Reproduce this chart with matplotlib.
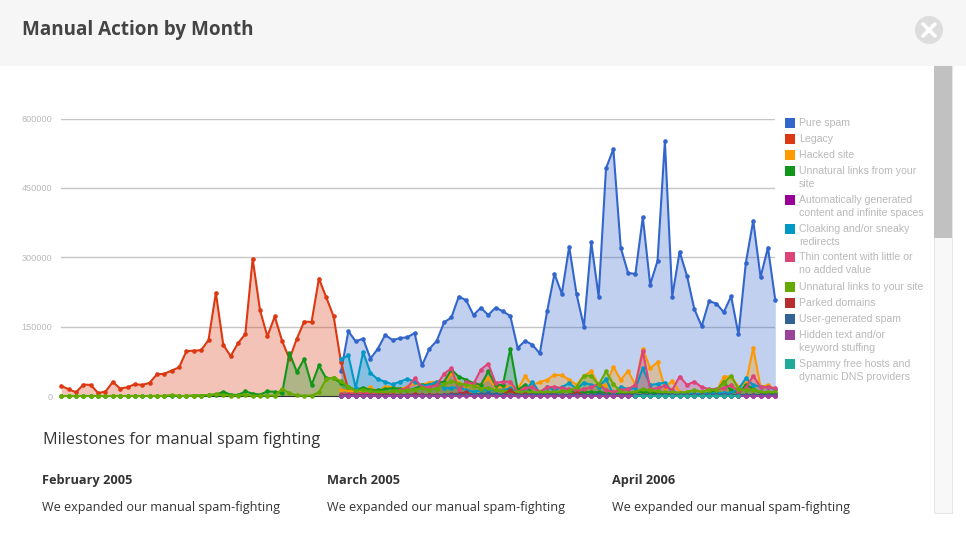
import matplotlib
matplotlib.use("Agg")
import matplotlib.pyplot as plt
from matplotlib.patches import Rectangle, Circle

# Data (98 months)
Z = None
pure_spam = [Z] * 38 + [
    53000, 140000, 118000, 124000, 81000, 102000, 132000, 121000, 125000, 127000,
    136000, 66000, 102000, 119000, 159000, 170000, 215000, 207000, 175000, 191000,
    175000, 191000, 183000, 173000, 104000, 119000, 111000, 92000, 183000, 264000,
    221000, 323000, 220000, 150000, 332000, 215000, 492000, 534000, 321000, 266000,
    264000, 387000, 241000, 292000, 551000, 215000, 312000, 260000, 188000, 151000,
    205000, 200000, 181000, 216000, 133000, 288000, 379000, 257000, 321000, 207000]
legacy = [
    21800, 14500, 8000, 24700, 24000, 6500, 9500, 30500, 16000, 19000,
    25500, 24000, 28500, 47000, 48000, 55000, 62000, 97000, 98000, 99000,
    121000, 223000, 111000, 86000, 114000, 134000, 297000, 185000, 129000, 172000,
    119000, 80000, 124000, 161000, 160000, 254000, 213000, 172000, 73000, 13000] + [Z] * 58
hacked = [Z] * 38 + [
    13000, 11600, 9500, 11600, 19000, 9500, 20400, 19000, 14600, 20400,
    27700, 24000, 29100, 31300, 27700, 49500, 27700, 20400, 24000, 24000,
    38600, 19000, 19000, 20400, 14600, 42200, 24000, 29800, 35000, 46000,
    45000, 35000, 24000, 44000, 53000, 24000, 24000, 63000, 35000, 54000,
    24000, 102000, 60000, 73000, 17000, 33000, 9000, 7000, 6000, 4000,
    9000, 9000, 42000, 42000, 20000, 28000, 104000, 19000, 24000, 14000]
links_from = [
    0, 0, 0, 0, 0, 0, 0, 0, 0, 0,
    0, 0, 0, 0, 0, 1000, 0, 0, 1000, 1000,
    2000, 3000, 9000, 3000, 2000, 10000, 5000, 3000, 10000, 9000,
    6000, 93000, 52000, 80000, 24000, 66000, 38000, 39000, 28000, 20000,
    13000, 18000, 13000, 12000, 15000, 17000, 16000, 12000, 15000, 24000,
    24000, 28000, 31000, 57000, 42000, 35000, 28000, 24000, 53000, 24000,
    24000, 102000, 13000, 24000, 7000, 6000, 8000, 7000, 10000, 12000,
    6000, 9000, 8000, 8000, 7000, 5000, 5000, 6000, 8000, 9000,
    7000, 6000, 6000, 5000, 4000, 5000, 4000, 5000, 6000, 12000,
    30000, 12000, 6000, 24000, 16000, 7000, 7000, 6000]
auto_gen = [Z] * 38 + [
    1000, 1000, 1000, 1500, 1000, 1000, 1500, 1000, 1000, 1000,
    1500, 2000, 1500, 1000, 1500, 1000, 2000, 1500, 1000, 1000,
    1000, 1500, 1000, 1000, 2000, 1000, 1000, 1000, 1500, 1000,
    1000, 1000, 1500, 1000, 1000, 1000, 1000, 1000, 1000, 1000,
    1000, 1000, 1000, 1000, 1000, 1000, 1000, 1000, 1000, 1000,
    1000, 1000, 1000, 1000, 1000, 1000, 1000, 1000, 1000, 1000]
cloaking = [Z] * 38 + [
    79000, 88000, 17000, 95000, 50000, 36000, 31000, 25000, 31000, 37000,
    31000, 22000, 24000, 31000, 17000, 17000, 19000, 13000, 9000, 12000,
    13000, 12000, 12000, 17000, 7000, 12000, 30000, 7000, 19000, 13000,
    19000, 28000, 15000, 29000, 24000, 20000, 36000, 4000, 20000, 15000,
    17000, 60000, 24000, 26000, 29000, 9000, 6000, 6000, 5000, 5000,
    5000, 6000, 7000, 7000, 15000, 38000, 24000, 20000, 19000, 15000]
thin_content = [Z] * 38 + [
    5000, 5000, 6000, 6000, 7000, 7000, 8000, 9000, 12000, 18000,
    38000, 19000, 19000, 24000, 48000, 60000, 13000, 31000, 26000, 57000,
    70000, 28000, 31000, 31000, 9000, 17000, 19000, 9000, 19000, 20000,
    17000, 15000, 12000, 15000, 19000, 26000, 13000, 9000, 13000, 15000,
    24000, 97000, 15000, 17000, 22000, 13000, 42000, 24000, 31000, 19000,
    15000, 15000, 17000, 24000, 9000, 17000, 44000, 19000, 19000, 17000]
links_to = [
    0, 0, 0, 0, 0, 0, 0, 0, 0, 0,
    0, 0, 0, 0, 0, 2000, 0, 0, 1000, 1000,
    2000, 4000, 2000, 1000, 1000, 3000, 0, 1000, 1000, 1000,
    15000, 6000, 1500, 500, 1000, 8000, 37000, 40000, 32000, 20000,
    11000, 14000, 10000, 9000, 9000, 10000, 11000, 12000, 14000, 17000,
    13000, 16000, 26000, 32000, 27000, 24000, 22000, 16000, 18000, 12000,
    11000, 10000, 9000, 9000, 8000, 8000, 9000, 9000, 10000, 11000,
    20000, 44000, 44000, 24000, 53000, 26000, 9000, 7000, 9000, 15000,
    12000, 10000, 8000, 8000, 7000, 9000, 13000, 9000, 14000, 13000,
    28000, 44000, 15000, 12000, 14000, 9000, 8000, 8000]
parked = [Z] * 38 + [
    2000, 2000, 2000, 2000, 2000, 2000, 3000, 2000, 2000, 2000,
    4000, 2000, 2000, 3000, 2000, 4000, 5000, 8000, 2000, 3000,
    3000, 2000, 3000, 12000, 2000, 4000, 2000, 2000, 3000, 3000,
    2000, 2000, 7000, 2000, 2000, 2000, 3000, 2000, 2000, 3000,
    2000, 2000, 2000, 2000, 2000, 2000, 2000, 2000, 2000, 2000,
    2000, 2000, 2000, 2000, 2000, 2000, 2000, 2000, 2000, 2000]
user_generated = [Z] * 38 + [
    1000, 1000, 1000, 1000, 1000, 1000, 1000, 1000, 1000, 1000,
    1000, 1000, 1000, 1000, 2000, 3000, 3000, 2000, 3000, 4000,
    6000, 4000, 3000, 2000, 2000, 2000, 3000, 2000, 2000, 3000,
    2000, 2000, 2000, 2000, 2000, 4000, 2000, 2000, 2000, 2000,
    2000, 2000, 2000, 2000, 3000, 2000, 2000, 2000, 2000, 2000,
    2000, 2000, 3000, 2000, 2000, 2000, 2000, 2000, 2000, 2000]
hidden_text = [Z] * 38 + [
    500, 500, 500, 500, 500, 500, 500, 500, 500, 500,
    500, 500, 500, 500, 500, 500, 500, 500, 500, 500,
    500, 500, 500, 500, 500, 500, 500, 500, 500, 500,
    500, 500, 500, 500, 500, 500, 500, 500, 500, 500,
    500, 500, 500, 500, 500, 500, 500, 500, 500, 500,
    500, 500, 500, 500, 500, 500, 500, 500, 500, 500]
free_hosts = [Z] * 78 + [
    1000, 1000, 1000, 1000, 1000, 1000, 1000, 1000, 1000, 1000,
    1000, 1000, 1000, 1000, 1000] + [Z] * 5

series = [
    (pure_spam, "#3366cc"), (legacy, "#dc3912"), (hacked, "#ff9900"),
    (links_from, "#109618"), (auto_gen, "#990099"), (cloaking, "#0099c6"),
    (thin_content, "#dd4477"), (links_to, "#66aa00"), (parked, "#b82e2e"),
    (user_generated, "#316395"), (hidden_text, "#994499"), (free_hosts, "#22aa99"),
]
legend_labels = [
    "Pure spam", "Legacy", "Hacked site", "Unnatural links from your\nsite",
    "Automatically generated\ncontent and infinite spaces",
    "Cloaking and/or sneaky\nredirects", "Thin content with little or\nno added value",
    "Unnatural links to your site", "Parked domains", "User-generated spam",
    "Hidden text and/or\nkeyword stuffing", "Spammy free hosts and\ndynamic DNS providers",
]
legend_y = [122.7, 138.7, 154.7, 170.7, 199.7, 228.7, 257.3, 286.7, 302.7, 318.7, 334.7, 363.7]
y_ticks = [0, 150000, 300000, 450000, 600000]
milestones = [
    (42, "February 2005"), (327, "March 2005"), (612, "April 2006"),
]

W, H = 966, 534
fig = plt.figure(figsize=(W / 100, H / 100), dpi=100, facecolor="white")

# page furniture, in pixel coordinates
bg = fig.add_axes([0, 0, 1, 1], zorder=0)
bg.set_xlim(0, W)
bg.set_ylim(H, 0)
bg.axis("off")
bg.add_patch(Rectangle((0, 0), W, 66, color="#f6f6f6", lw=0))
bg.add_patch(Circle((929, 30), 14, color="#dddddd", lw=0))
bg.plot([923, 935], [24, 36], color="white", lw=2.6, solid_capstyle="round")
bg.plot([923, 935], [36, 24], color="white", lw=2.6, solid_capstyle="round")
bg.add_patch(Rectangle((934, 66), 18, 447, facecolor="#f8f8f8", edgecolor="#e6e6e6", lw=0.8))
bg.add_patch(Rectangle((934, 66), 18, 172, color="#c1c1c1", lw=0))

sans = ["Open Sans", "DejaVu Sans"]
bg.text(22, 30, "Manual Action by Month", fontsize=13.55, fontweight="bold",
        color="#444444", family=sans, va="center")
bg.text(43, 440, "Milestones for manual spam fighting", fontsize=11.7,
        color="#333333", family=sans, va="center")
for x, head in milestones:
    bg.text(x, 480.5, head, fontsize=9.2, fontweight="bold", color="#333333",
            family=sans, va="center")
    bg.text(x, 507, "We expanded our manual spam-fighting", fontsize=9.05,
            color="#333333", family=sans, va="center")

# legend
for y, label, (_, color) in zip(legend_y, legend_labels, series):
    bg.add_patch(Rectangle((785, y - 5), 10, 10, color=color, lw=0))
    lines = label.split("\n")
    for k, line in enumerate(lines):
        bg.text(799, y + 13 * k, line, fontsize=7.6, color="#b9b9b9",
                family="Liberation Sans", va="center")

# chart
left, right, top, bottom = 61.3, 775.3, 118.5, 396.0
ax = fig.add_axes([left / W, 1 - bottom / H, (right - left) / W, (bottom - top) / H], zorder=1)
ax.patch.set_alpha(0)
months = list(range(98))
for values, color in series:
    y = [float("nan") if v is None else v for v in values]
    ax.fill_between(months, y, 0, color=color, alpha=0.3, lw=0, zorder=2)
for i, (values, color) in enumerate(series):
    y = [float("nan") if v is None else v for v in values]
    ax.plot(months, y, color=color, lw=1.5, marker="o", ms=3.3, mew=0,
            clip_on=False, zorder=3 + i * 0.01)

ax.set_xlim(0, 97)
ax.set_ylim(0, 600000)
ax.set_yticks(y_ticks)
ax.set_yticklabels([str(t) for t in y_ticks], fontsize=6.6, color="#b9b9b9",
                   family="Liberation Sans")
ax.set_xticks([])
ax.tick_params(axis="y", length=0, pad=6.5)
ax.grid(axis="y", color="#c6c6c6", lw=1)
ax.set_axisbelow(True)
for name in ["top", "left", "right"]:
    ax.spines[name].set_visible(False)
ax.spines["bottom"].set_color("#333333")

fig.savefig("out.png", dpi=100)
